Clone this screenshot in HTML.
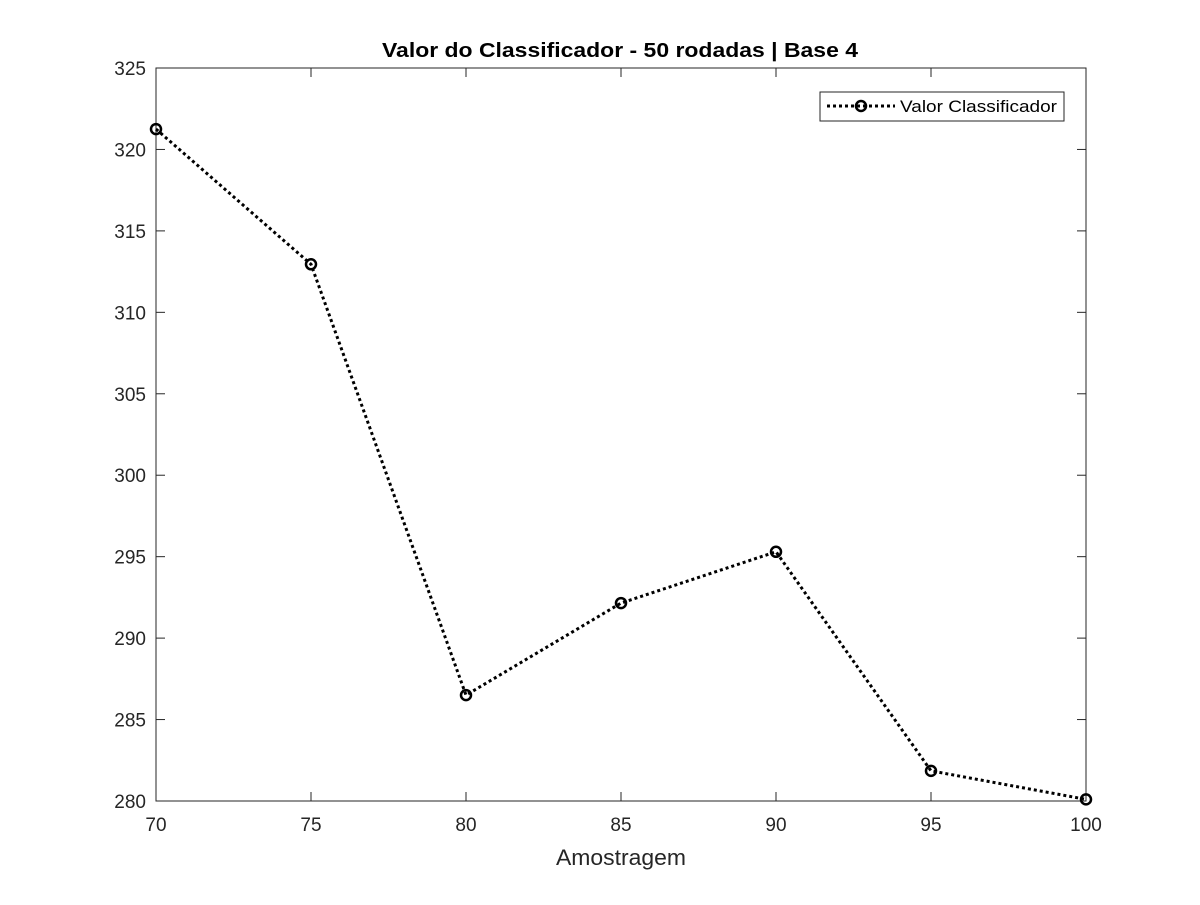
<!DOCTYPE html>
<html><head><meta charset="utf-8"><style>
body{margin:0;background:#fff;}
svg text{font-family:"Liberation Sans",Arial,sans-serif;fill:#262626;}
</style></head><body>
<svg id="chart" width="1200" height="900" xmlns="http://www.w3.org/2000/svg">
<rect width="1200" height="900" fill="#fff"/>
<g id="axes"></g>
<g id="series"></g>
<text x="382" y="57" textLength="476" lengthAdjust="spacingAndGlyphs" font-size="20" font-weight="bold" style="fill:#000">Valor do Classificador - 50 rodadas | Base 4</text>
<text x="556" y="865" textLength="130" lengthAdjust="spacingAndGlyphs" font-size="22">Amostragem</text>
<g>
<rect x="820" y="92" width="244" height="29" fill="#fff" stroke="#262626" stroke-width="1"/>
<line x1="827" y1="106" x2="895" y2="106" stroke="#000" stroke-width="3" stroke-dasharray="3,3"/>
<circle cx="861" cy="106" r="5" fill="none" stroke="#000" stroke-width="2.5"/>
<text x="900" y="112" font-size="17" textLength="157" lengthAdjust="spacingAndGlyphs" style="fill:#000">Valor Classificador</text>
</g>
</svg>
<script>
const xValues=[70,75,80,85,90,95,100];
const yValues=[321.25,312.95,286.5,292.15,295.3,281.85,280.1];
const xTicks=[70,75,80,85,90,95,100];
const yTicks=[280,285,290,295,300,305,310,315,320,325];
const L=156,R=1086,T=68,B=801,xMin=70,xMax=100,yMin=280,yMax=325;
const sx=v=>L+(v-xMin)/(xMax-xMin)*(R-L);
const sy=v=>B-(v-yMin)/(yMax-yMin)*(B-T);
const NS="http://www.w3.org/2000/svg";
const ax=document.getElementById('axes'),se=document.getElementById('series');
function mk(tag,attrs,parent){const e=document.createElementNS(NS,tag);for(const k in attrs)e.setAttribute(k,attrs[k]);parent.appendChild(e);return e;}
const frame=mk('rect',{x:L,y:T,width:R-L,height:B-T,fill:'none',stroke:'#262626','stroke-width':1},ax);


xTicks.forEach(v=>{const x=sx(v);
 mk('line',{x1:x,y1:B,x2:x,y2:B-9,stroke:'#262626'},ax);
 mk('line',{x1:x,y1:T,x2:x,y2:T+9,stroke:'#262626'},ax);
 const t=mk('text',{x:x,y:B+30,'text-anchor':'middle','font-size':19},ax);t.textContent=v;
 
 });
yTicks.forEach(v=>{const y=sy(v);
 mk('line',{x1:L,y1:y,x2:L+9,y2:y,stroke:'#262626'},ax);
 mk('line',{x1:R,y1:y,x2:R-9,y2:y,stroke:'#262626'},ax);
 const t=mk('text',{x:L-10,y:y+7,'text-anchor':'end','font-size':19},ax);t.textContent=v;
 
 });
const pts=xValues.map((v,i)=>sx(v)+','+sy(yValues[i])).join(' ');
const pl=mk('polyline',{points:pts,fill:'none',stroke:'#000','stroke-width':3,'stroke-dasharray':'3,3'},se);


xValues.forEach((v,i)=>{const c=mk('circle',{cx:sx(v),cy:sy(yValues[i]),r:5,fill:'none',stroke:'#000','stroke-width':2.5},se);
 
 });
</script>
</body></html>
